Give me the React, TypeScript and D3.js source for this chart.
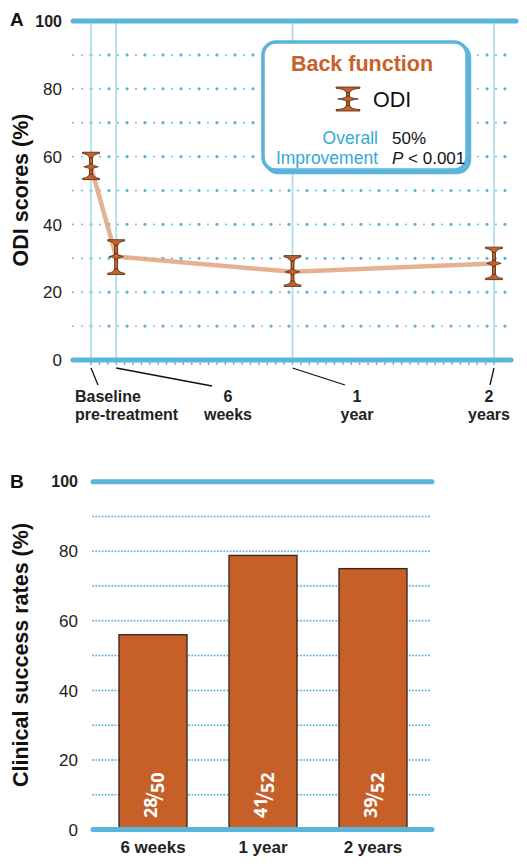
import React from "react";
import * as d3 from "d3";

// ---------- Panel A data ----------
const timeMonths = [0, 1.5, 12, 24];
const timeLine1 = ["Baseline", "6", "1", "2"];
const timeLine2 = ["pre-treatment", "weeks", "year", "years"];
const odiMean = [57, 30.5, 26, 28.5];
const odiLow = [53.5, 25.5, 22, 24];
const odiHigh = [61, 35.2, 30.5, 33];
const yTicksA = [0, 20, 40, 60, 80, 100];
const gridVals = [10, 20, 30, 40, 50, 60, 70, 80, 90];

// ---------- Panel B data ----------
const barCats = ["6 weeks", "1 year", "2 years"];
const successRate = [56, 78.8, 75];
const successNum = ["28", "41", "39"];
const successDen = ["50", "52", "52"];
const yTicksB = [0, 20, 40, 60, 80, 100];

const FONT = "'Liberation Sans', Arial, Helvetica, sans-serif";
const BLUE = "#5bb4dc";
const LIGHTBLUE = "#a9dbe7";
const ORANGE = "#c8602a";
const DARK = "#4a2814";

function ErrGlyph({ x, yT, yM, yB, hw }: { x: number; yT: number; yM: number; yB: number; hw: number }) {
  const capT = `M${x - hw},${yT - 1} L${x + hw},${yT - 1} L${x + hw},${yT + 0.3} Q${x + 2.5},${yT + 1} ${x + 1.6},${yT + 4.5} L${x - 1.6},${yT + 4.5} Q${x - 2.5},${yT + 1} ${x - hw},${yT + 0.3} Z`;
  const capB = `M${x - hw},${yB + 1} L${x + hw},${yB + 1} L${x + hw},${yB - 0.3} Q${x + 2.5},${yB - 1} ${x + 1.6},${yB - 4.5} L${x - 1.6},${yB - 4.5} Q${x - 2.5},${yB - 1} ${x - hw},${yB - 0.3} Z`;
  const dw = hw * 0.85;
  const mid = `M${x - dw},${yM} Q${x - 2},${yM - 0.8} ${x},${yM - 3.5} Q${x + 2},${yM - 0.8} ${x + dw},${yM} Q${x + 2},${yM + 0.8} ${x},${yM + 3.5} Q${x - 2},${yM + 0.8} ${x - dw},${yM} Z`;
  return (
    <g fill={ORANGE} stroke={DARK} strokeWidth={0.8}>
      <rect x={x - 1.5} y={yT + 3} width={3} height={yB - yT - 6} />
      <path d={capT} />
      <path d={capB} />
      <path d={mid} />
    </g>
  );
}

export default function App() {
  // Panel A scales
  const xA = d3.scaleLinear().domain([0, 24]).range([91, 494]);
  const yA = d3.scaleLinear().domain([0, 100]).range([360, 21]);
  const axLeftA = 73;
  const axRightA = 511;
  const line = d3
    .line<number>()
    .x((_, i) => xA(timeMonths[i]))
    .y((d) => yA(d));
  const halfMonthTicks = d3.range(0, 24.01, 0.5);

  // label layout for panel A
  const labelX = [75, 228, 357, 489];
  const labelAnchor = ["start", "middle", "middle", "middle"];
  const leaderEnd = [
    [98, 385],
    [212, 386],
    [345, 385],
    [490, 385],
  ];

  // Panel B scales
  const xB = d3.scaleBand<string>().domain(barCats).range([98, 428]).paddingInner(0.382).paddingOuter(0.191);
  const yB = d3.scaleLinear().domain([0, 100]).range([829.5, 481.7]);
  const axLeftB = 93;
  const axRightB = 432;

  return (
    <svg
      width={527}
      height={868}
      style={{ position: "absolute", left: 0, top: 0, background: "#fff" }}
      fontFamily={FONT}
    >
      {/* ================= PANEL A ================= */}
      <text x={10} y={26} fontSize={19} fontWeight="bold" fill="#111">A</text>
      {/* dotted gridlines */}
      {gridVals.map((v) => (
        <g key={"ga" + v}>
          <line x1={73} x2={axRightA} y1={yA(v)} y2={yA(v)} stroke={BLUE} strokeWidth={1.9} strokeLinecap="round" strokeDasharray="0 9" />
          <line x1={91} x2={axRightA} y1={yA(v)} y2={yA(v)} stroke={BLUE} strokeWidth={3.2} strokeLinecap="round" strokeDasharray="0 18" />
        </g>
      ))}
      {/* vertical time lines */}
      {timeMonths.map((t, i) => (
        <line key={"vl" + i} x1={xA(t)} x2={xA(t)} y1={yA(100)} y2={yA(0)} stroke={LIGHTBLUE} strokeWidth={1.6} />
      ))}
      {/* top / bottom thick lines */}
      <line x1={axLeftA} x2={516} y1={yA(100)} y2={yA(100)} stroke={BLUE} strokeWidth={5} strokeLinecap="round" />
      {halfMonthTicks.map((t, i) => (
        <line key={"tk" + i} x1={xA(t)} x2={xA(t)} y1={yA(0)} y2={yA(0) + 5} stroke={BLUE} strokeWidth={1.4} />
      ))}
      <line x1={axLeftA} x2={axRightA} y1={yA(0)} y2={yA(0)} stroke={BLUE} strokeWidth={5} strokeLinecap="round" />

      {/* y tick labels */}
      {yTicksA.map((v) => (
        <text
          key={"ya" + v}
          x={62}
          y={yA(v)}
          dy="0.36em"
          textAnchor="end"
          fontSize={v === 100 ? 16 : 17}
          fontWeight={v === 100 ? "bold" : "normal"}
          fill="#222"
        >
          {v}
        </text>
      ))}
      <text
        transform={`translate(28,190) rotate(-90)`}
        textAnchor="middle"
        fontSize={21.5}
        fontWeight="bold"
        fill="#111"
      >
        ODI scores (%)
      </text>

      {/* data line */}
      <path d={line(odiMean) || ""} fill="none" stroke="#e3a985" strokeOpacity={0.9} strokeWidth={4.5} strokeLinejoin="round" />
      {odiMean.map((m, i) => (
        <ErrGlyph key={"eg" + i} x={xA(timeMonths[i])} yT={yA(odiHigh[i])} yM={yA(m)} yB={yA(odiLow[i])} hw={8.5} />
      ))}

      {/* legend box */}
      <rect x={265.5} y={44.5} width={204} height={128} rx={13} fill="none" stroke={BLUE} strokeWidth={3.5} />
      <rect x={263} y={42} width={204} height={128} rx={13} fill="#fff" stroke={BLUE} strokeWidth={3.5} />
      <text x={362} y={71} textAnchor="middle" fontSize={21.5} fontWeight="bold" fill={ORANGE}>Back function</text>
      <ErrGlyph x={348} yT={88} yM={99} yB={110} hw={12} />
      <text x={373} y={107} fontSize={21.5} fill="#111">ODI</text>
      <text x={378} y={144} textAnchor="end" fontSize={17.5} fill="#35a9d4">Overall</text>
      <text x={378} y={164} textAnchor="end" fontSize={17.5} fill="#35a9d4">Improvement</text>
      <text x={392} y={144} fontSize={17} fill="#111">50%</text>
      <text x={392} y={164} fontSize={17} fill="#111">
        <tspan fontStyle="italic">P</tspan> &lt; 0.001
      </text>

      {/* x labels & leader lines */}
      {timeMonths.map((t, i) => (
        <g key={"xl" + i}>
          <line x1={xA(t)} y1={yA(0) + 8} x2={leaderEnd[i][0]} y2={leaderEnd[i][1]} stroke="#111" strokeWidth={1.3} />
          <text x={labelX[i]} y={402} textAnchor={labelAnchor[i] as any} fontSize={16} fontWeight="bold" fill="#222">
            {timeLine1[i]}
          </text>
          <text x={labelX[i]} y={420} textAnchor={labelAnchor[i] as any} fontSize={16} fontWeight="bold" fill="#222">
            {timeLine2[i]}
          </text>
        </g>
      ))}

      {/* ================= PANEL B ================= */}
      <text x={10} y={488} fontSize={19} fontWeight="bold" fill="#111">B</text>
      {gridVals.map((v) => (
        <line key={"gb" + v} x1={axLeftB} x2={axRightB} y1={yB(v)} y2={yB(v)} stroke={BLUE} strokeWidth={2} strokeLinecap="round" strokeDasharray="0 3.2" />
      ))}
      <line x1={axLeftB} x2={axRightB} y1={yB(100)} y2={yB(100)} stroke={BLUE} strokeWidth={5} strokeLinecap="round" />
      {yTicksB.map((v) => (
        <text
          key={"yb" + v}
          x={78}
          y={yB(v)}
          dy="0.36em"
          textAnchor="end"
          fontSize={v === 100 ? 16 : 17}
          fontWeight={v === 100 ? "bold" : "normal"}
          fill="#222"
        >
          {v}
        </text>
      ))}
      <text
        transform={`translate(28,655) rotate(-90)`}
        textAnchor="middle"
        fontSize={21.5}
        fontWeight="bold"
        fill="#111"
      >
        Clinical success rates (%)
      </text>
      {barCats.map((c, i) => {
        const x0 = xB(c) as number;
        const bw = xB.bandwidth();
        const cx = x0 + bw / 2;
        return (
          <g key={"bar" + i}>
            <rect x={x0} y={yB(successRate[i])} width={bw} height={yB(0) - yB(successRate[i])} fill="#c65f28" stroke="#3a2a22" strokeWidth={1.4} />
            <text
              transform={`translate(${cx},818) rotate(-90)`}
              fill="#fff"
              fontFamily="'Open Sans', sans-serif"
              fontWeight="bold"
              fontSize={18}
            >
              <tspan x={0} y={4}>{successNum[i]}</tspan>
              <tspan x={17} y={10} fontWeight="normal" fontSize={24}>/</tspan>
              <tspan x={25} y={11}>{successDen[i]}</tspan>
            </text>
            <text x={cx} y={853} textAnchor="middle" fontSize={17} fontWeight="bold" fill="#222">
              {c}
            </text>
          </g>
        );
      })}
      <line x1={axLeftB} x2={axRightB} y1={yB(0)} y2={yB(0)} stroke={BLUE} strokeWidth={5} strokeLinecap="round" />
    </svg>
  );
}
